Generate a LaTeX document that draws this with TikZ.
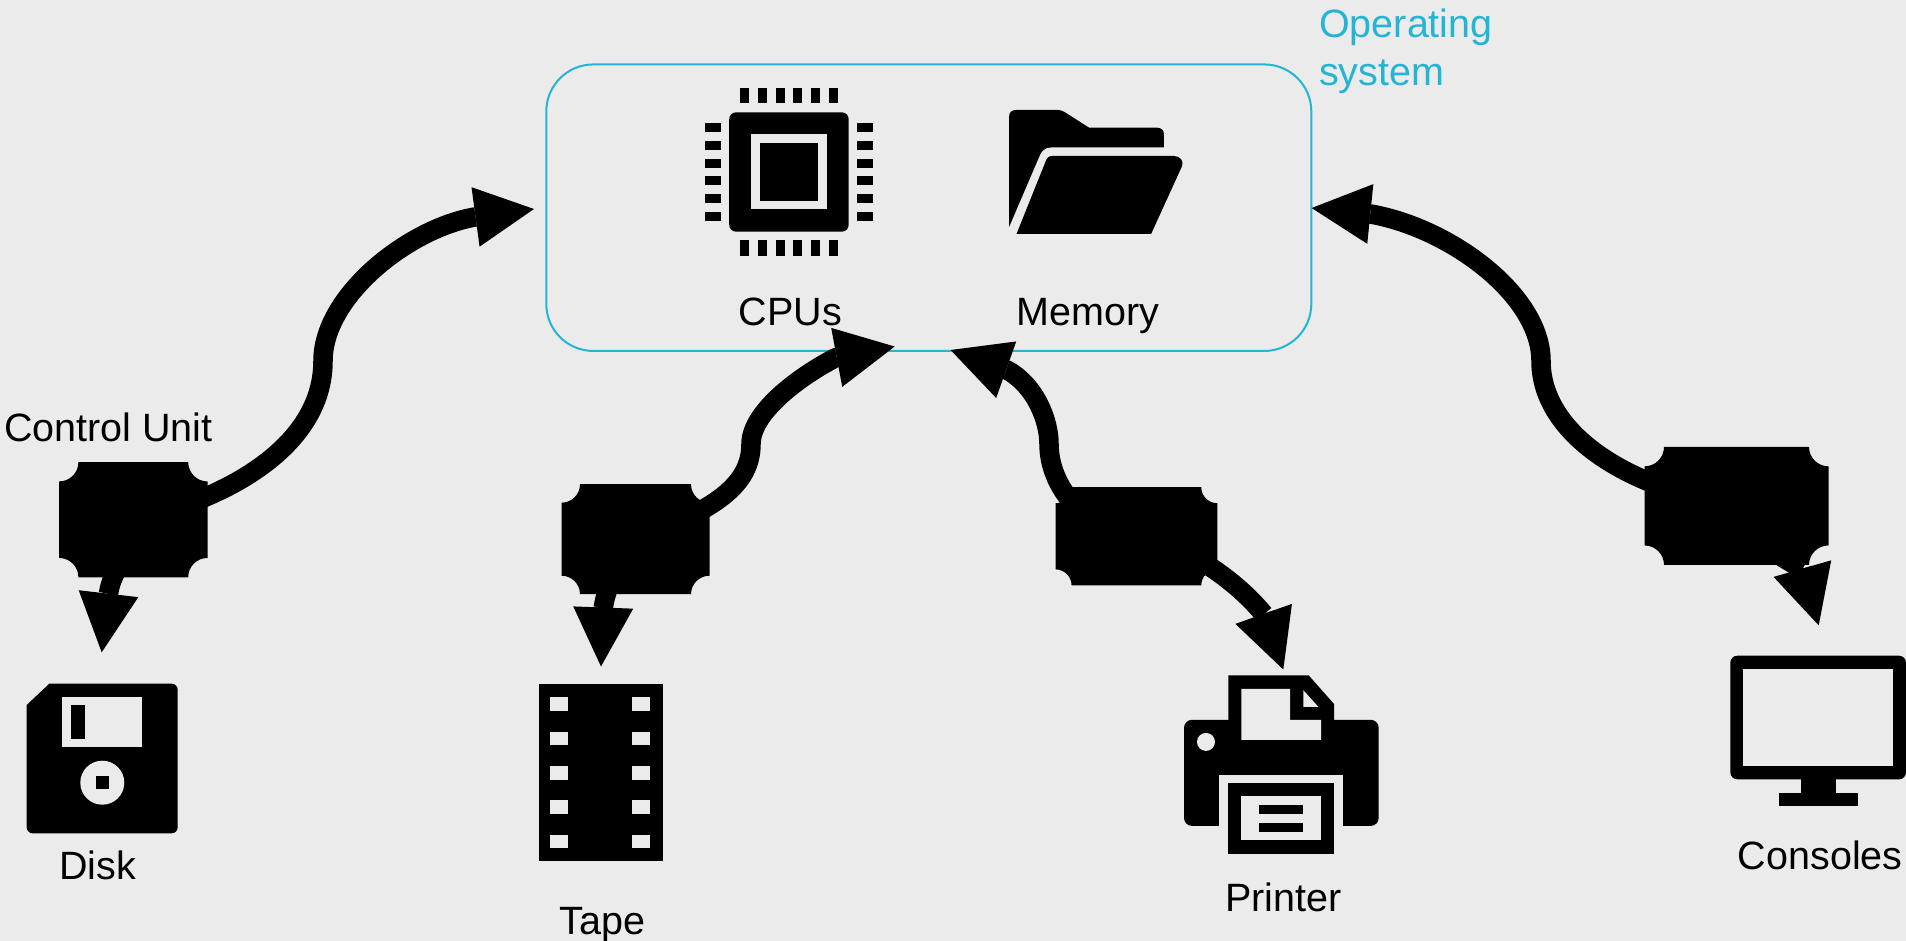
\documentclass[tikz,border=0pt]{standalone}
\usepackage{fontspec}
\setmainfont{Liberation Sans}
\usetikzlibrary{arrows.meta,calc}
\definecolor{bgc}{HTML}{EBEBEB}
\definecolor{osblue}{HTML}{23B5D3}
\tikzset{
  label text/.style={inner sep=0pt,anchor=base,font=\fontsize{39.5}{47}\selectfont},
  os text/.style={inner sep=0pt,anchor=base west,text=osblue,font=\fontsize{39.5}{47}\selectfont},
  link/.style={line width=19.5pt,line join=round,-{Triangle[length=59pt,width=60pt,line width=0pt]},line cap=butt},
  os box/.style={draw=osblue,line width=2pt,rounded corners=47pt}
}
% plaque: filled rectangle with four quarter-circle corner notches, built on a named node
\newcommand{\ctlplaque}[2]{%
  \fill ($(#1.north west)+(#2,0pt)$) -- ($(#1.north east)+(-#2,0pt)$) arc (180:270:#2)
    -- ($(#1.south east)+(0pt,#2)$) arc (90:180:#2)
    -- ($(#1.south west)+(#2,0pt)$) arc (0:90:#2)
    -- ($(#1.north west)+(0pt,-#2)$) arc (270:360:#2) -- cycle;}
\begin{document}
\begin{tikzpicture}[x=1pt,y=-1pt]
\useasboundingbox (0,0) rectangle (1906,941);
\fill[bgc] (0,0) rectangle (1906,941);

% operating system box
\node[os box,minimum width=765pt,minimum height=286.5pt,inner sep=0pt] (os) at (928.8,207.7) {};
\node[os text] (ostitle1) at (1319,38) {Operating};
\node[os text] (ostitle2) at (1319,85.5) {system};

% chip icon
\fill[rounded corners=7pt] (729.2,112.3) rectangle (848.7,231.7);
\fill[bgc] (750.9,134.3) rectangle (826.7,209.3);
\fill (759.9,143.3) rectangle (817.8,200.7);
\foreach \i in {0,...,5}{
  \fill ({740.3+17.7*\i},88) rectangle +(8.9,15.3);
  \fill ({740.3+17.7*\i},240.3) rectangle +(8.9,15.7);
  \fill (704.8,{123.3+17.67*\i}) rectangle +(15.8,9);
  \fill (857.4,{123.3+17.67*\i}) rectangle +(15.8,9);
}
% folder icon
\fill (1009.2,226.7) -- (1009.2,116) .. controls (1009.2,112) and (1012,110) .. (1016,110) -- (1058,110) .. controls (1060.5,110) and (1062.5,110.8) .. (1064.5,112) -- (1089.1,127.7) -- (1157,127.7) .. controls (1161,127.7) and (1163.9,130) .. (1163.9,134) -- (1163.9,147.3) -- (1051.9,147.3) .. controls (1045,147.3) and (1041,151) .. (1039.2,156.7) -- cycle;
\fill (1016.5,234) -- (1045,163) .. controls (1046.5,158.5) and (1048,156) .. (1052,156) -- (1174,156) .. controls (1180,156) and (1184,161) .. (1182.1,166) -- (1151.1,234) -- cycle;
\node[label text] (cpus) at (790.3,325.3) {CPUs};
\node[label text] (memory) at (1087.6,325.3) {Memory};

% disk icon
\fill[rounded corners=6pt] (26.7,833.3) [sharp corners] -- (26.7,705) -- (49.3,683.7) [rounded corners=6pt] -- (177.7,683.7) -- (177.7,833.3) -- cycle;
\fill[bgc] (62.3,696.7) rectangle (142.3,747.3);
\fill (71.3,705.3) rectangle (84.7,738.7);
\fill[bgc] (102.3,782.7) circle[radius=22];
\fill (95.7,776) rectangle (109,789.3);
\node[label text] (disk) at (97.8,879.3) {Disk};

% tape icon
\fill (539,683.6) rectangle (663,861);
\foreach \i in {0,...,4}{
  \fill[bgc] (550,{697.4+34.3*\i}) rectangle +(17.7,13.5);
  \fill[bgc] (631.7,{697.4+34.3*\i}) rectangle +(18,13.5);
}
\node[label text] (tape) at (602.5,934.5) {Tape};

% printer icon
\fill (1228.3,730) -- (1228.3,675.4) -- (1308.7,675.4) -- (1334,704) -- (1334,730) -- cycle;
\fill[rounded corners=8pt] (1184,719.8) rectangle (1378.7,825.9);
\fill[bgc] (1241.3,688.8) -- (1290,688.8) -- (1290,719.8) -- (1321,719.8) -- (1321,739.8) -- (1241.3,739.8) -- cycle;
\fill[bgc] (1303.3,690.2) -- (1303.3,706.8) -- (1318.3,706.8) -- cycle;
\fill[bgc] (1206,741.9) circle[radius=9];
\fill[bgc] (1219.3,775) rectangle (1343,827);
\fill (1228.3,782.9) rectangle (1334,853.8);
\fill[bgc] (1241.3,796) rectangle (1321,840.3);
\fill (1259.3,804.9) rectangle (1303.3,814.2);
\fill (1259.3,822.8) rectangle (1303.3,831.7);
\node[label text] (printer) at (1283.5,911) {Printer};

% monitor icon
\fill[rounded corners=7pt] (1730.3,655.7) rectangle (1906,779.3);
\fill[bgc] (1743.3,668.7) rectangle (1893.3,766.3);
\fill (1801,779) rectangle (1835.7,793);
\fill (1778.7,792.7) rectangle (1858,806);
\node[label text] (consoles) at (1820.3,869.3) {Consoles};

% control units
\node[inner sep=0pt,minimum width=148pt,minimum height=114.7pt] (cu1) at (133.3,519.7) {};
\node[inner sep=0pt,minimum width=147.6pt,minimum height=109.6pt] (cu2) at (635.5,539.2) {};
\node[inner sep=0pt,minimum width=161.3pt,minimum height=97.8pt] (cu3) at (1136.4,536.3) {};
\node[inner sep=0pt,minimum width=183.6pt,minimum height=117.7pt] (cu4) at (1736.5,505.9) {};
\ctlplaque{cu1}{19.3pt}
\ctlplaque{cu2}{18.5pt}
\ctlplaque{cu3}{16pt}
\ctlplaque{cu4}{19.5pt}
\node[label text] (cutitle) at (108.3,441.5) {Control Unit};

% connector tips, head bases and way points
\coordinate (cu1top) at (534,209);     \coordinate (cu1topb) at (475,217);
\coordinate (cu1way) at (323,361);
\coordinate (cu1low) at (101.7,652.3); \coordinate (cu1lowb) at (108.5,593.7);
\coordinate (cu2top) at (894.7,346.5); \coordinate (cu2topb) at (836,357.5);
\coordinate (cu2way) at (751,444);
\coordinate (cu2low) at (601,666.5);   \coordinate (cu2lowb) at (603.2,608);
\coordinate (cu3top) at (950.6,350);   \coordinate (cu3topb) at (1007,370);
\coordinate (cu3way) at (1049,444);
\coordinate (cu3low) at (1283.3,669.5);\coordinate (cu3lowb) at (1263.8,614.3);
\coordinate (cu4top) at (1311.6,208);  \coordinate (cu4topb) at (1370.6,214);
\coordinate (cu4way) at (1541,361);
\coordinate (cu4low) at (1818.7,625.3);\coordinate (cu4lowb) at (1802.5,569);

% connectors
\draw[link] (cu1.center) .. controls (225,500) and (323,447) .. (cu1way) .. controls (323,295) and (410,228) .. (cu1topb) -- (cu1top);
\draw[link] (cu1.center) .. controls (125,565) and (112,570) .. (cu1lowb) -- (cu1low);
\draw[link] (cu2.center) .. controls (715,510) and (751,485) .. (cu2way) .. controls (751,412) and (800,376) .. (cu2topb) -- (cu2top);
\draw[link] (cu2.center) .. controls (612,575) and (606,590) .. (cu2lowb) -- (cu2low);
\draw[link] (cu3.center) .. controls (1075,525) and (1049,480) .. (cu3way) .. controls (1049,420) and (1035,385) .. (cu3topb) -- (cu3top);
\draw[link] (cu3.center) .. controls (1190,545) and (1240,585) .. (cu3lowb) -- (cu3low);
\draw[link] (cu4.center) .. controls (1620,487) and (1541,430) .. (cu4way) .. controls (1541,295) and (1450,228) .. (cu4topb) -- (cu4top);
\draw[link] (cu4.center) .. controls (1760,548) and (1785,559) .. (cu4lowb) -- (cu4low);
\end{tikzpicture}
\end{document}
